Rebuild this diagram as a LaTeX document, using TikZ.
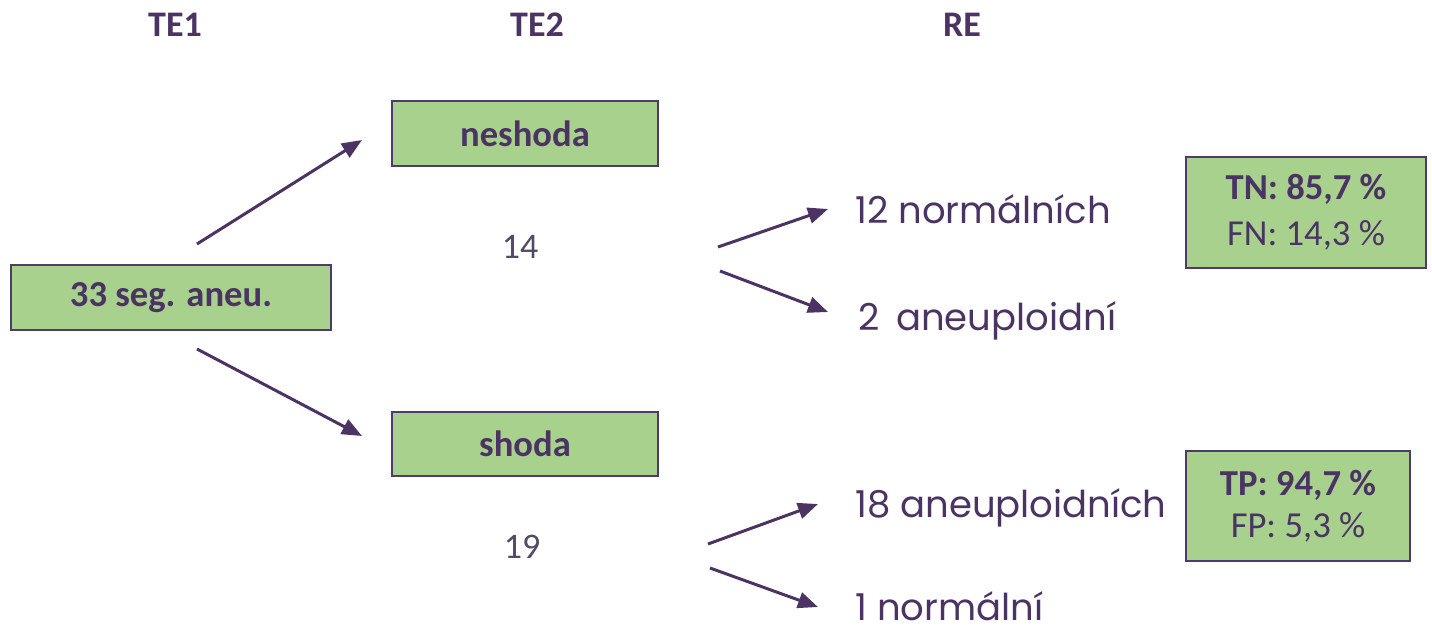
\documentclass[tikz,border=0pt]{standalone}
\usepackage{fontspec}
\setmainfont{Carlito}
\newfontfamily\gothic{Poppins}
\usetikzlibrary{arrows.meta}
\definecolor{ink}{HTML}{4B3463}
\definecolor{inkgray}{HTML}{524A66}
\definecolor{leaf}{HTML}{A9D18E}
\definecolor{edge}{HTML}{4E3A6B}
\tikzset{
  greenbox/.style={draw=edge, line width=1pt, fill=leaf, inner sep=0pt,
    font=\fontsize{18.3}{24}\selectfont\bfseries, text=ink},
  header/.style={font=\fontsize{18}{22}\selectfont\bfseries, text=ink},
  countlbl/.style={font=\fontsize{18}{22}\selectfont, text=inkgray},
  outcome/.style={font=\gothic\fontsize{18.5}{22}\selectfont, text=ink, anchor=base west, inner sep=0pt},
  flow/.style={draw=ink, line width=1.5pt, -{Triangle[length=10pt,width=8pt]}}
}
\begin{document}
\begin{tikzpicture}[x=0.5pt, y=-0.5pt]
\useasboundingbox (0,0) rectangle (1432,633);

% column headers
\node[header] (h1) at (175,25) {TE1};
\node[header] (h2) at (537,25) {TE2};
\node[header] (h3) at (962,25) {RE};

% boxes
\node[greenbox, minimum width=160pt, minimum height=32.5pt] (seg) at (171,297.5) {33 seg. aneu.};
\node[greenbox, minimum width=133pt, minimum height=32.5pt] (nes) at (525,133.5) {neshoda};
\node[greenbox, minimum width=133pt, minimum height=32pt] (sho) at (525,444) {shoda};
\node[greenbox, minimum width=120pt, minimum height=55.5pt, align=center] (tn) at (1306,212.5)
  {TN: 85,7 \%\\[-1pt]\mdseries FN: 14,3 \%};
\node[greenbox, minimum width=112pt, minimum height=55pt, align=center] (tp) at (1298,506)
  {TP: 94,7 \%\\[-3pt]\mdseries FP: 5,3 \%};

% counts
\node[countlbl] (n14) at (520,247) {14};
\node[countlbl] (n19) at (522,547) {19};

% outcomes
\node[outcome] (norm12) at (855,223) {12 normálních};
\node[outcome] (aneu2) at (858,330) {2\hspace{0.45em}aneuploidní};
\node[outcome] (aneu18) at (855,517) {18 aneuploidních};
\node[outcome] (norm1) at (855,620) {1 normální};

% arrow end points
\coordinate (a1s) at (197,244);  \coordinate (a1e) at (362,140);
\coordinate (a2s) at (197,349);  \coordinate (a2e) at (362,436);
\coordinate (b1s) at (718,247);  \coordinate (b1e) at (828,209);
\coordinate (b2s) at (720,271);  \coordinate (b2e) at (828,312);
\coordinate (c1s) at (708,544);  \coordinate (c1e) at (818,504);
\coordinate (c2s) at (710,568);  \coordinate (c2e) at (818,607);

\draw[flow] (a1s) -- (a1e);
\draw[flow] (a2s) -- (a2e);
\draw[flow] (b1s) -- (b1e);
\draw[flow] (b2s) -- (b2e);
\draw[flow] (c1s) -- (c1e);
\draw[flow] (c2s) -- (c2e);
\end{tikzpicture}
\end{document}
